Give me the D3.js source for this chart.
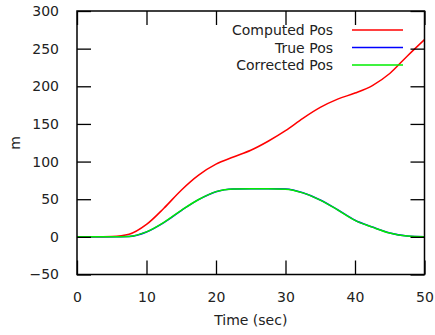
<!DOCTYPE html>
<html>
<head>
<meta charset="utf-8">
<script src="https://cdn.jsdelivr.net/npm/d3@7"></script>
<style>
  body { margin: 0; background: #fff; }
  text { font-family: "DejaVu Sans", sans-serif; font-size: 14px; fill: #222; }
</style>
</head>
<body>
<script>
'use strict';

// sample times (sec)
const times = [0, 2.5, 5, 7.5, 10, 12.5, 15, 17.5, 20, 22.5, 25, 27.5, 30, 32.5, 35, 37.5, 40, 42.5, 45, 47.5, 50];
const computedPos = [0, 0, 0.5, 3.5, 16.5, 38, 62, 82, 96.5, 106, 115, 127, 141, 157.5, 172, 183, 191, 201, 217, 240, 262];
const truePos = [0, 0, 0, 0.5, 6.5, 19, 35, 49.5, 60, 63.5, 64, 64, 63.5, 58.5, 49, 36, 22, 13, 5, 1, 0];
const correctedPos = [0, 0, 0, 0.6, 6.6, 19.2, 35.2, 49.6, 60.1, 63.6, 64, 64, 63.4, 58.4, 48.8, 35.8, 21.9, 12.9, 5, 1, 0];

const xTicks = [0, 10, 20, 30, 40, 50];
const yTicks = [-50, 0, 50, 100, 150, 200, 250, 300];

const series = [
  { name: "Computed Pos", values: computedPos, color: "#ff0000" },
  { name: "True Pos", values: truePos, color: "#0000ff" },
  { name: "Corrected Pos", values: correctedPos, color: "#00ee00" }
];

const m = { left: 77, right: 424.5, top: 11, bottom: 274.5 };

const svg = d3.select('body')
  .append('svg')
  .attr('width', 435)
  .attr('height', 335);

const xScale = d3.scaleLinear().domain([0, 50]).range([m.left, m.right]);
const yScale = d3.scaleLinear().domain([-50, 300]).range([m.bottom, m.top]);

// curves
const line = d3.line()
  .x((d, i) => xScale(times[i]))
  .y((d) => yScale(d))
  .curve(d3.curveMonotoneX);

svg.selectAll('.curve')
  .data(series)
  .enter()
  .append('path')
  .attr('class', 'curve')
  .attr('d', (s) => line(s.values))
  .attr('fill', 'none')
  .attr('stroke', (s) => s.color)
  .attr('stroke-width', 1.5);

// axes with inward ticks, mirrored
const tickLen = 14;
svg.append('g')
  .attr('transform', 'translate(0,' + m.bottom + ')')
  .call(d3.axisBottom(xScale).tickValues(xTicks).tickSize(-tickLen).tickPadding(tickLen + 4))
  .call((g) => g.select('.domain').remove());
svg.append('g')
  .attr('transform', 'translate(0,' + m.top + ')')
  .call(d3.axisTop(xScale).tickValues(xTicks).tickSize(-tickLen).tickFormat(''))
  .call((g) => g.select('.domain').remove());
svg.append('g')
  .attr('transform', 'translate(' + m.left + ',0)')
  .call(d3.axisLeft(yScale).tickValues(yTicks).tickSize(-tickLen).tickPadding(tickLen + 4))
  .call((g) => g.select('.domain').remove());
svg.append('g')
  .attr('transform', 'translate(' + m.right + ',0)')
  .call(d3.axisRight(yScale).tickValues(yTicks).tickSize(-tickLen).tickFormat(''))
  .call((g) => g.select('.domain').remove());

svg.selectAll('.tick line').attr('stroke', '#000').attr('stroke-width', 1.3);
svg.selectAll('.tick text')
  .style('font-family', '"DejaVu Sans", sans-serif')
  .style('font-size', '14px')
  .attr('fill', '#222');

// frame
svg.append('rect')
  .attr('x', m.left)
  .attr('y', m.top)
  .attr('width', m.right - m.left)
  .attr('height', m.bottom - m.top)
  .attr('fill', 'none')
  .attr('stroke', '#000')
  .attr('stroke-width', 1.5);

// legend
const leg = svg.selectAll('.leg')
  .data(series)
  .enter()
  .append('g')
  .attr('transform', (d, i) => 'translate(0,' + (30 + i * 17.5) + ')');
leg.append('text')
  .attr('x', 333)
  .attr('y', 5)
  .attr('text-anchor', 'end')
  .text((d) => d.name);
leg.append('line')
  .attr('x1', 352)
  .attr('x2', 403)
  .attr('stroke', (d) => d.color)
  .attr('stroke-width', 1.5);

// labels
svg.append('text')
  .attr('x', (m.left + m.right) / 2)
  .attr('y', 325)
  .attr('text-anchor', 'middle')
  .text('Time (sec)');

svg.append('text')
  .attr('transform', 'translate(20, 143)rotate(-90)')
  .attr('text-anchor', 'middle')
  .text('m');
</script>
</body>
</html>
